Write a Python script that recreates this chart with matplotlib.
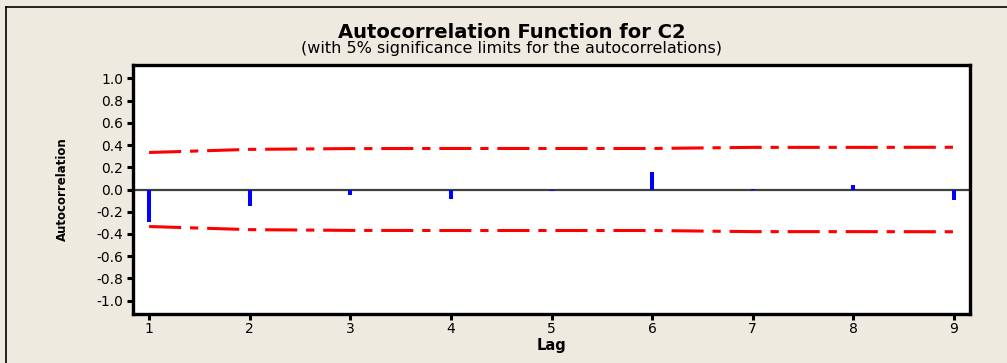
import numpy as np
import matplotlib
matplotlib.use('Agg')
import matplotlib.pyplot as plt
from matplotlib.lines import Line2D

plt.rcParams['axes.unicode_minus'] = False
plt.rcParams['font.family'] = ['DejaVu Sans']

# ACF values
lags = [1, 2, 3, 4, 5, 6, 7, 8, 9]
acf = [-0.293, -0.144, -0.045, -0.083, -0.015, 0.159, 0.005, 0.042, -0.096]
# 5% significance limits (upper, the lower one is the mirror)
limit = [0.333, 0.361, 0.368, 0.369, 0.369, 0.369, 0.379, 0.379, 0.380]
yticks = [-1.0, -0.8, -0.6, -0.4, -0.2, 0.0, 0.2, 0.4, 0.6, 0.8, 1.0]
ytick_labels = ['-1.0', '-0.8', '-0.6', '-0.4', '-0.2', '0.0', '0.2', '0.4', '0.6', '0.8', '1.0']

bg = '#eeeae0'
fig = plt.figure(figsize=(10.07, 3.63), dpi=100, facecolor=bg)
ax = fig.add_axes([133 / 1007, 1 - 314 / 363, (970 - 133) / 1007, (314 - 65) / 363])
ax.set_facecolor('white')

ax.axhline(0, color='#404040', lw=1.6, zorder=2)
ax.vlines(lags, 0, acf, color='#0000ff', lw=2.9, zorder=3)

lim = np.array(limit)
ax.plot(lags, lim, color='#ff0000', lw=2.2, dashes=(10.5, 2.9, 2.7, 2.9), zorder=2)
ax.plot(lags, -lim, color='#ff0000', lw=2.2, dashes=(10.5, 2.9, 2.7, 2.9), zorder=2)

ax.set_xlim(0.84, 9.16)
ax.set_ylim(-1.12, 1.12)
ax.set_xticks(lags)
ax.set_xticklabels([str(l) for l in lags])
ax.set_yticks(yticks)
ax.set_yticklabels(ytick_labels)
ax.tick_params(axis='both', direction='out', width=2.2, length=4, color='black', labelsize=10)
ax.tick_params(axis='y', pad=3)
ax.tick_params(axis='x', pad=2)
for s in ax.spines.values():
    s.set_linewidth(2.4)
    s.set_color('black')

ax.set_xlabel('Lag', fontsize=10.5, fontweight='bold', labelpad=1)
ax.set_ylabel('Autocorrelation', fontsize=8.5, fontweight='bold', labelpad=20)

fig.text(0.508, 1 - 32 / 363, 'Autocorrelation Function for C2', ha='center', va='center',
         fontsize=14, fontweight='bold')
fig.text(0.508, 1 - 49 / 363, '(with 5% significance limits for the autocorrelations)',
         ha='center', va='center', fontsize=11.5)

# outer frame of the graph window
fig.add_artist(Line2D([6 / 1007, 6 / 1007], [0, 1 - 7 / 363], transform=fig.transFigure, color='black', lw=1.2))
fig.add_artist(Line2D([6 / 1007, 1], [1 - 7 / 363, 1 - 7 / 363], transform=fig.transFigure, color='black', lw=1.2))

fig.savefig('out.png', dpi=100, facecolor=bg)
